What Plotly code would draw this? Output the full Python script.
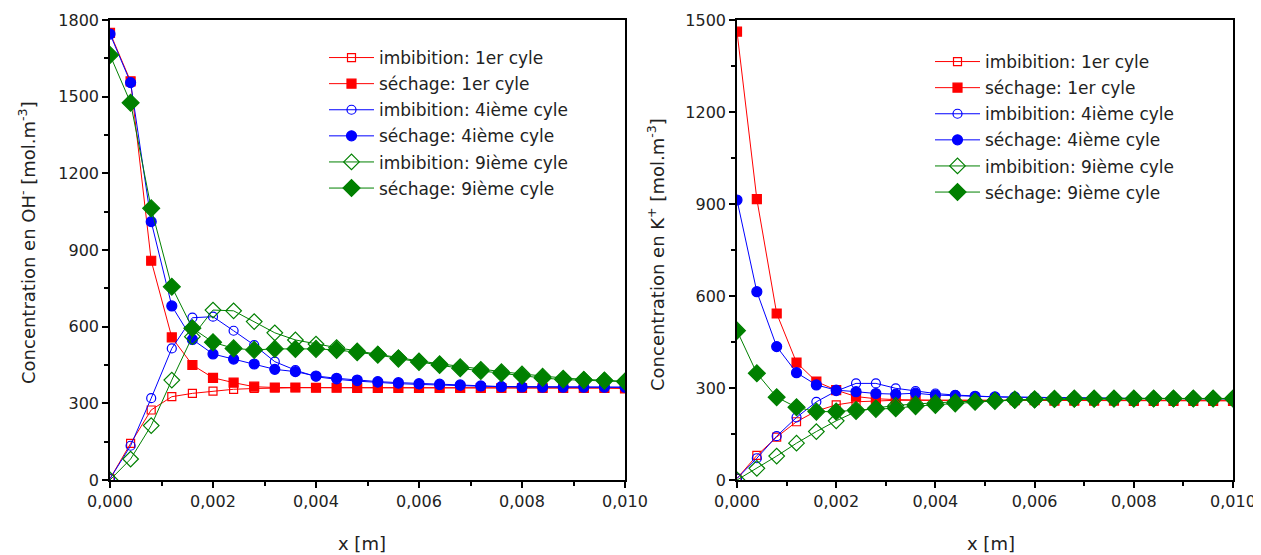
import plotly.graph_objects as go

# ---- data ----
x_pos = [0.0, 0.0004, 0.0008, 0.0012, 0.0016, 0.0020, 0.0024, 0.0028, 0.0032, 0.0036,
         0.0040, 0.0044, 0.0048, 0.0052, 0.0056, 0.0060, 0.0064, 0.0068, 0.0072, 0.0076,
         0.0080, 0.0084, 0.0088, 0.0092, 0.0096, 0.0100]

# OH- (left panel)
oh_imb_1 = [5, 143, 274, 326, 339, 348, 355, 358, 360, 361, 361, 361, 361, 361, 361, 361,
            361, 361, 361, 361, 361, 361, 361, 361, 361, 360]
oh_sec_1 = [1750, 1560, 858, 558, 450, 400, 381, 365, 362, 362, 361, 361, 360, 360, 360, 360,
            360, 360, 360, 360, 360, 360, 360, 360, 360, 358]
oh_imb_4 = [5, 134, 320, 515, 635, 639, 584, 528, 463, 430, 404, 394, 387, 381, 377, 374,
            371, 369, 367, 366, 365, 364, 364, 363, 363, 363]
oh_sec_4 = [1745, 1555, 1011, 681, 550, 493, 473, 454, 433, 424, 407, 398, 391, 385, 381, 377,
            375, 372, 368, 365, 364, 363, 363, 363, 363, 363]
oh_imb_9 = [0, 82, 213, 391, 561, 665, 662, 620, 576, 548, 532, 518, 505, 492, 478, 466,
            455, 444, 433, 424, 415, 406, 399, 394, 390, 386]
oh_sec_9 = [1663, 1476, 1063, 756, 594, 539, 515, 509, 513, 513, 513, 509, 500, 490, 475, 462,
            450, 437, 427, 418, 408, 399, 393, 391, 389, 385]

# K+ (right panel)
k_imb_1 = [5, 80, 140, 190, 225, 245, 255, 258, 260, 260, 260, 260, 260, 260, 260, 260,
           260, 260, 260, 260, 260, 260, 260, 260, 260, 260]
k_sec_1 = [1462, 916, 543, 383, 321, 293, 272, 265, 262, 260, 260, 260, 260, 260, 260, 260,
           259, 259, 259, 259, 258, 258, 258, 258, 258, 258]
k_imb_4 = [5, 71, 143, 204, 255, 290, 315, 315, 299, 290, 282, 277, 273, 271, 270, 269,
           268, 268, 267, 267, 266, 266, 265, 265, 265, 265]
k_sec_4 = [913, 614, 435, 350, 310, 293, 288, 282, 280, 283, 277, 276, 273, 271, 270, 269,
           268, 268, 267, 267, 266, 266, 265, 265, 265, 265]
k_imb_9 = [0, 38, 78, 120, 158, 193, 223, 235, 243, 248, 252, 255, 257, 259, 260, 261,
           262, 263, 263, 264, 264, 265, 265, 265, 265, 265]
k_sec_9 = [487, 348, 270, 237, 223, 223, 228, 232, 234, 241, 245, 250, 255, 258, 262, 263,
           265, 266, 266, 266, 266, 266, 266, 266, 266, 266]

labels = ["imbibition: 1er cyle", "séchage: 1er cyle",
          "imbibition: 4ième cyle", "séchage: 4ième cyle",
          "imbibition: 9ième cyle", "séchage: 9ième cyle"]

RED, BLUE, GREEN = "#FF0000", "#0000FF", "#008000"
styles = [
    (RED, "square-open", 8),
    (RED, "square", 9),
    (BLUE, "circle-open", 9),
    (BLUE, "circle", 10),
    (GREEN, "diamond-open", 12),
    (GREEN, "diamond", 13),
]

FONT = "DejaVu Sans, Liberation Sans, Arial, sans-serif"
TXT = "#222222"
W, H = 1261, 555
OFF = 8  # page body margin of the rendered html

def px_x(p):
    return (p - OFF) / W

def px_y(p):
    return 1 - (p - OFF) / H

fig = go.Figure()

left_series = [oh_imb_1, oh_sec_1, oh_imb_4, oh_sec_4, oh_imb_9, oh_sec_9]
right_series = [k_imb_1, k_sec_1, k_imb_4, k_sec_4, k_imb_9, k_sec_9]

for i, (ys, lab) in enumerate(zip(left_series, labels)):
    c, sym, sz = styles[i]
    fig.add_trace(go.Scatter(
        x=x_pos, y=ys, name=lab, mode="lines+markers",
        line=dict(color=c, width=1),
        marker=dict(symbol=sym, size=sz, color=c, line=dict(color=c, width=1.2)),
        xaxis="x", yaxis="y", legend="legend", legendgroup="L%d" % i,
    ))

for i, (ys, lab) in enumerate(zip(right_series, labels)):
    c, sym, sz = styles[i]
    fig.add_trace(go.Scatter(
        x=x_pos, y=ys, name=lab, mode="lines+markers",
        line=dict(color=c, width=1),
        marker=dict(symbol=sym, size=sz, color=c, line=dict(color=c, width=1.2)),
        xaxis="x2", yaxis="y2", legend="legend2", legendgroup="R%d" % i,
    ))

ydom = [px_y(480), px_y(20)]

axis_common = dict(
    showgrid=False, zeroline=False, showline=True, linecolor="black", linewidth=1.5,
    mirror=True, ticks="outside", ticklen=6, tickwidth=1.5, tickcolor="black",
    automargin=False,
    tickfont=dict(family=FONT, size=16, color=TXT),
)
minor_x = dict(ticks="outside", dtick=0.001, ticklen=4, tickcolor="black", tickwidth=1.5)
minor_y = dict(ticks="outside", dtick=150, ticklen=4, tickcolor="black", tickwidth=1.5)

title_font = dict(family=FONT, size=18, color=TXT)

fig.update_layout(
    width=W, height=H,
    margin=dict(l=0, r=0, t=0, b=0, autoexpand=False),
    paper_bgcolor="white", plot_bgcolor="white",
    separators=",.",
    font=dict(family=FONT, size=16, color=TXT),
    xaxis=dict(domain=[px_x(110), px_x(625)], range=[0, 0.010], tick0=0, dtick=0.002,
               tickformat=".3f", anchor="y", minor=minor_x, **axis_common),
    yaxis=dict(domain=ydom, range=[0, 1800], tick0=0, dtick=300, anchor="x",
               minor=minor_y, **axis_common),
    xaxis2=dict(domain=[px_x(737), px_x(1233)], range=[0, 0.010], tick0=0, dtick=0.002,
                tickformat=".3f", anchor="y2", minor=minor_x, **axis_common),
    yaxis2=dict(domain=ydom, range=[0, 1500], tick0=0, dtick=300, anchor="x2",
                minor=minor_y, **axis_common),
    legend=dict(x=px_x(324), y=px_y(40), xanchor="left", yanchor="top",
                bgcolor="rgba(0,0,0,0)", itemwidth=45, tracegroupgap=1,
                font=dict(family=FONT, size=17, color=TXT)),
    legend2=dict(x=px_x(930), y=px_y(44), xanchor="left", yanchor="top",
                 bgcolor="rgba(0,0,0,0)", itemwidth=45, tracegroupgap=1,
                 font=dict(family=FONT, size=17, color=TXT)),
    annotations=[
        dict(text="x [m]", x=px_x(362), y=px_y(543), xref="paper", yref="paper",
             xanchor="center", yanchor="middle", showarrow=False, font=title_font),
        dict(text="x [m]", x=px_x(991), y=px_y(543), xref="paper", yref="paper",
             xanchor="center", yanchor="middle", showarrow=False, font=title_font),
        dict(text="Concentration en OH<sup>-</sup> [mol.m<sup>-3</sup>]",
             x=px_x(27), y=px_y(243), xref="paper", yref="paper", textangle=-90,
             xanchor="center", yanchor="middle", showarrow=False, font=title_font),
        dict(text="Concentration en K<sup>+</sup> [mol.m<sup>-3</sup>]",
             x=px_x(656), y=px_y(254), xref="paper", yref="paper", textangle=-90,
             xanchor="center", yanchor="middle", showarrow=False, font=title_font),
    ],
)

fig.write_html("out.html")
